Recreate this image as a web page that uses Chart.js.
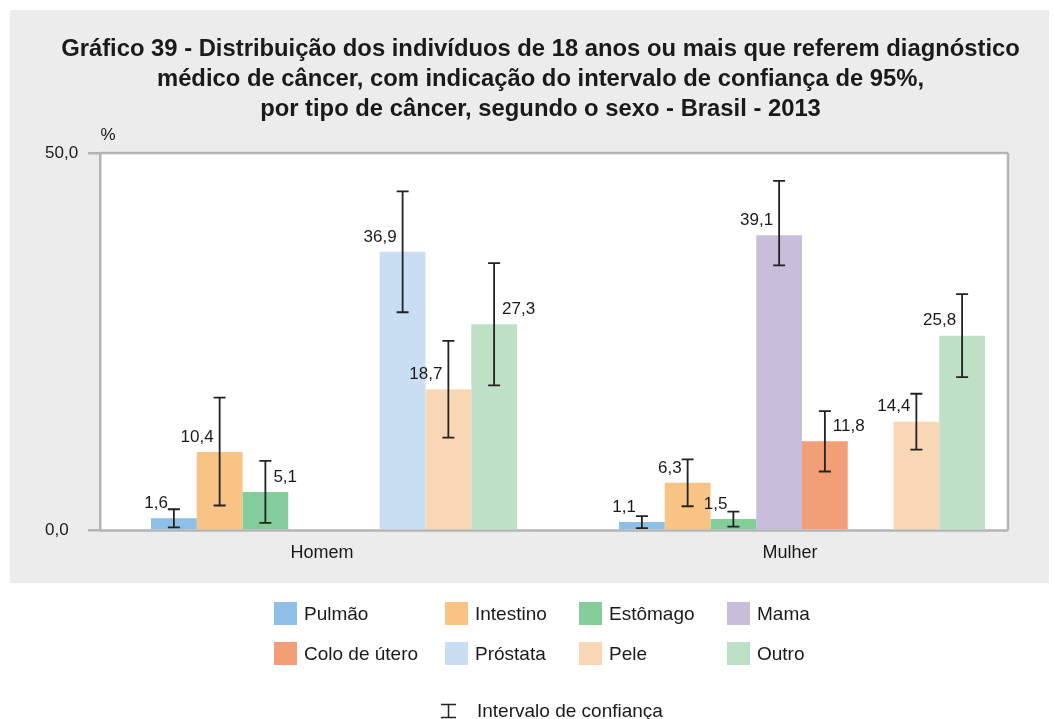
<!DOCTYPE html>
<html lang="pt-BR">
<head>
<meta charset="utf-8">
<title>Gráfico 39 - Diagnóstico médico de câncer por tipo e sexo</title>
<script src="https://cdn.jsdelivr.net/npm/chart.js@4.4.1/dist/chart.umd.min.js"></script>
<style>
  html, body { margin: 0; padding: 0; background: #fff; }
  #wrap {
    position: relative; width: 1054px; height: 719px; overflow: hidden;
    font-family: "Liberation Sans", Arial, sans-serif; color: #1a1a1a;
  }
  #grafico { position: absolute; left: 0; top: 0; }
  #legenda {
    position: absolute; left: 274px; top: 602px;
    display: grid; grid-template-columns: 171px 134px 148px auto; row-gap: 17px;
  }
  .item { display: flex; align-items: center; height: 23px; font-size: 19px; white-space: nowrap; }
  .caixa { width: 23px; height: 23px; margin-right: 7px; flex: none; }
  #legendaIC {
    position: absolute; left: 440px; top: 700px;
    display: flex; align-items: center; font-size: 19px; white-space: nowrap;
  }
  #legendaIC svg { margin-right: 20px; }
</style>
</head>
<body>
<div id="wrap">
  <canvas id="grafico" width="1054" height="719"></canvas>
  <div id="legenda"></div>
  <div id="legendaIC">
    <svg width="17" height="16" viewBox="0 0 17 16"><path d="M1 1.5H16M8.5 1.5V14.5M1 14.5H16" stroke="#222" stroke-width="1.5" fill="none"/></svg>
    <span>Intervalo de confiança</span>
  </div>
</div>

<script>
/* ===== dados ===== */
const sexos = ['Homem', 'Mulher'];
const tipos = ['Pulmão', 'Intestino', 'Estômago', 'Mama', 'Colo de útero', 'Próstata', 'Pele', 'Outro'];
const coresTipos = ['#8ebfe6', '#f7c485', '#85cc9b', '#c8bedc', '#f29e76', '#c9def2', '#f9d7b4', '#bee0c6'];

// % por sexo (Homem, Mulher)
const pulmao    = [1.6, 1.1];
const intestino = [10.4, 6.3];
const estomago  = [5.1, 1.5];
const mama      = [null, 39.1];
const coloUtero = [null, 11.8];
const prostata  = [36.9, null];
const pele      = [18.7, 14.4];
const outro     = [27.3, 25.8];

// IC 95%: [inferior, superior] por sexo
const icPulmao    = [[0.4, 2.8], [0.3, 1.9]];
const icIntestino = [[3.3, 17.6], [3.2, 9.4]];
const icEstomago  = [[1.0, 9.2], [0.5, 2.5]];
const icMama      = [null, [35.1, 46.3]];
const icColoUtero = [null, [7.8, 15.8]];
const icProstata  = [[28.9, 44.9], null];
const icPele      = [[12.3, 25.1], [10.7, 18.1]];
const icOutro     = [[19.2, 35.4], [20.3, 31.3]];

const ticksY = [0, 50];

const valores = [pulmao, intestino, estomago, mama, coloUtero, prostata, pele, outro];
const intervalos = [icPulmao, icIntestino, icEstomago, icMama, icColoUtero, icProstata, icPele, icOutro];

const CINZA_EIXO = '#b4b4b4';
const FONTE = '"Liberation Sans", Arial, sans-serif';

const fmt = v => v.toFixed(1).replace('.', ',');

/* ===== fundo cinza + moldura da área do gráfico ===== */
const painel = {
    id: 'painel',
    beforeDraw(chart) {
        const { ctx, chartArea: a, width } = chart;
        const direita = a.right - 28;
        ctx.save();
        ctx.fillStyle = '#fff';
        ctx.fillRect(0, 0, chart.width, chart.height);
        ctx.fillStyle = '#ececec';
        ctx.fillRect(10, 10, width - 15, 573);
        ctx.fillStyle = '#fff';
        ctx.fillRect(a.left, a.top, direita - a.left, a.bottom - a.top);
        ctx.restore();
    },
    beforeDatasetsDraw(chart) {
        const { ctx, chartArea: a, scales: { y } } = chart;
        const direita = a.right - 28;
        ctx.save();
        ctx.strokeStyle = CINZA_EIXO;
        ctx.lineWidth = 2.5;
        ctx.beginPath();
        [y.getPixelForValue(0), y.getPixelForValue(50)].forEach(py => {
            ctx.moveTo(a.left, py);
            ctx.lineTo(direita, py);
        });
        ctx.moveTo(direita, a.top);
        ctx.lineTo(direita, a.bottom);
        ctx.stroke();
        ctx.restore();
    },
    afterDraw(chart) {
        const { ctx, chartArea: a } = chart;
        ctx.save();
        ctx.fillStyle = '#1a1a1a';
        ctx.font = '17px ' + FONTE;
        ctx.textAlign = 'center';
        ctx.textBaseline = 'middle';
        ctx.fillText('%', a.left + 8, a.top - 18);
        ctx.restore();
    }
};

/* ===== barras de erro (IC 95%) e rótulos de valor ===== */
const intervaloConfianca = {
    id: 'intervaloConfianca',
    afterDatasetsDraw(chart, args, opts) {
        const { ctx, scales: { y } } = chart;
        ctx.save();
        chart.data.datasets.forEach((ds, i) => {
            const meta = chart.getDatasetMeta(i);
            meta.data.forEach((bar, j) => {
                const v = ds.data[j];
                if (v == null) return;
                const [inf, sup] = ds.ic[j];
                const yi = y.getPixelForValue(inf);
                const ys = y.getPixelForValue(sup);

                ctx.strokeStyle = '#222';
                ctx.lineWidth = 1.8;
                ctx.beginPath();
                ctx.moveTo(bar.x, yi); ctx.lineTo(bar.x, ys);
                ctx.moveTo(bar.x - 6, yi); ctx.lineTo(bar.x + 6, yi);
                ctx.moveTo(bar.x - 6, ys); ctx.lineTo(bar.x + 6, ys);
                ctx.stroke();

                const aDireita = opts.aDireita.includes(tipos[i] + '|' + sexos[j]);
                ctx.fillStyle = '#1a1a1a';
                ctx.font = '17px ' + FONTE;
                ctx.textBaseline = 'middle';
                ctx.textAlign = aDireita ? 'left' : 'right';
                ctx.fillText(fmt(v), bar.x + (aDireita ? 8 : -6), bar.y - 15);
            });
        });
        ctx.restore();
    }
};

new Chart(document.getElementById('grafico'), {
    type: 'bar',
    data: {
        labels: sexos,
        datasets: tipos.map((t, i) => ({
            label: t,
            data: valores[i],
            ic: intervalos[i],
            backgroundColor: coresTipos[i],
            categoryPercentage: 0.782,
            barPercentage: 1
        }))
    },
    options: {
        responsive: false,
        animation: false,
        layout: { padding: { left: 45, right: 18, top: 0, bottom: 151 } },
        plugins: {
            legend: { display: false },
            tooltip: { enabled: false },
            title: {
                display: true,
                text: [
                    'Gráfico 39 - Distribuição dos indivíduos de 18 anos ou mais que referem diagnóstico',
                    'médico de câncer, com indicação do intervalo de confiança de 95%,',
                    'por tipo de câncer, segundo o sexo - Brasil - 2013'
                ],
                color: '#1a1a1a',
                font: { family: FONTE, size: 23.8, weight: 'bold', lineHeight: 1.26 },
                padding: { top: 34, bottom: 29 }
            },
            intervaloConfianca: {
                aDireita: ['Estômago|Homem', 'Outro|Homem', 'Colo de útero|Mulher']
            }
        },
        scales: {
            x: {
                grid: { display: false },
                border: { display: false },
                ticks: { color: '#1a1a1a', font: { family: FONTE, size: 18 }, padding: 4, labelOffset: -12 }
            },
            y: {
                min: 0,
                max: 50,
                afterBuildTicks: s => { s.ticks = ticksY.map(v => ({ value: v })); },
                afterFit: s => { s.width = 55; },
                grid: { drawOnChartArea: false, tickLength: 12, color: CINZA_EIXO, lineWidth: 2.5 },
                border: { display: true, color: CINZA_EIXO, width: 2.5 },
                ticks: {
                    crossAlign: 'far',
                    color: '#1a1a1a',
                    font: { family: FONTE, size: 17 },
                    callback: v => fmt(v)
                }
            }
        }
    },
    plugins: [painel, intervaloConfianca]
});

/* ===== legenda ===== */
const legenda = document.getElementById('legenda');
tipos.forEach((t, i) => {
    legenda.insertAdjacentHTML('beforeend',
        `<div class="item"><span class="caixa" style="background:${coresTipos[i]}"></span>${t}</div>`);
});
</script>
</body>
</html>
